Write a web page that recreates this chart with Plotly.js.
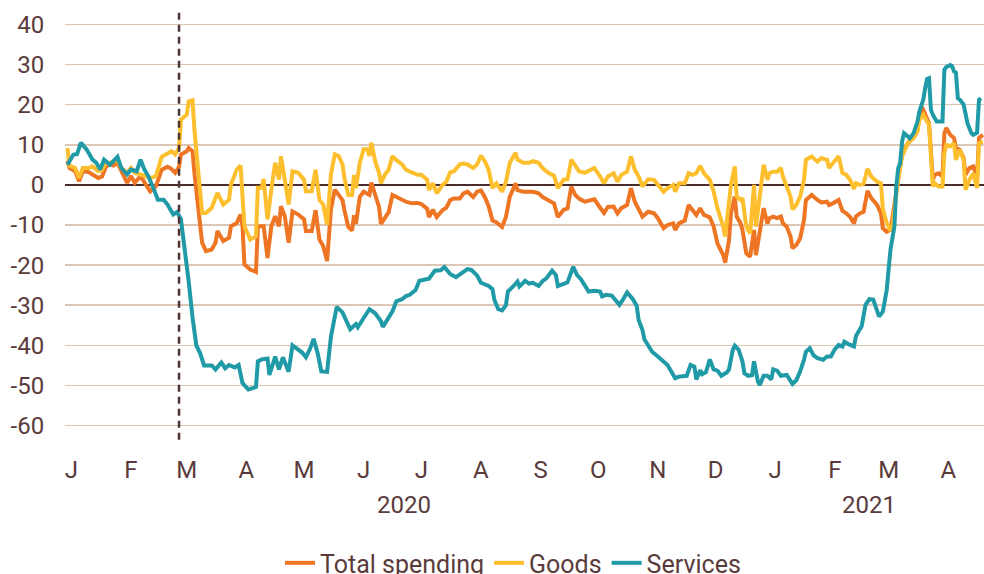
<!DOCTYPE html>
<html>
<head>
<meta charset="utf-8">
<script src="https://cdn.plot.ly/plotly-3.0.1.min.js"></script>
<style>
html,body{margin:0;padding:0;background:#fff;}
#chart{width:984px;height:574px;}
</style>
</head>
<body>
<div id="chart"></div>
<script>
// x values: days since 1 January 2020
const servicesDay = [12,15,17,19,22,25,27,29,31,34,38,40,43,45,48,50,52,54,57,59,62,64,67,69,71,73,75,77,79,81,83,87,89,92,94,96,99,101,103,106,110,111,113,116,117,120,122,124,127,129,132,134,136,138,140,142,144,147,149,152,155,157,159,162,163,166,169,172,175,176,179,181,183,186,188,190,193,195,198,200,203,206,208,211,214,217,220,222,225,227,231,233,234,236,238,240,241,244,246,247,250,252,254,257,259,261,264,266,267,270,272,275,277,279,281,283,286,289,290,292,295,297,299,301,303,306,308,309,311,312,314,316,319,322,324,326,328,330,334,336,338,339,341,342,344,346,348,350,352,355,356,358,359,361,363,364,366,368,369,371,372,374,376,378,379,381,383,386,388,389,391,393,395,396,398,400,402,405,407,409,411,413,415,416,419,421,422,425,427,429,431,433,434,436,438,439,440,442,443,444,445,446,447,448,450,452,454,455,457,458,459,460,461,462,464,466,467,468,469,471,472,473,474,475,476,478,479,480,482,483,485,486,487];
const services = [5.0,7.5,7.7,10.5,8.8,6.3,5.5,3.8,6.3,5.0,7.0,4.2,2.6,3.8,3.4,6.3,3.8,2.2,-1.2,-3.7,-3.7,-4.9,-7.4,-6.8,-8.6,-16,-24,-33,-40,-42,-45,-45,-46,-44.3,-45.7,-44.9,-45.5,-44.9,-49.4,-51,-50.4,-44,-43.5,-43.3,-47.4,-42.8,-46,-43,-46.6,-40,-41,-41.8,-43,-41,-38.4,-41.8,-46.5,-46.6,-37.8,-30.4,-31.8,-34,-36,-34.7,-35.5,-33.2,-31,-32,-34,-35.4,-33.2,-31.5,-29,-28.5,-27.7,-27.4,-26.2,-23.9,-23.6,-23.4,-21.4,-21.3,-20.5,-22.2,-23,-22,-21,-21.2,-22.6,-24.4,-25.2,-26,-28.7,-31,-31.3,-30,-26.6,-25.2,-24.1,-25.3,-23.9,-24.6,-24.4,-25.2,-24,-23.3,-21.4,-22.5,-25.2,-24.7,-24.3,-20.4,-22.5,-23.5,-25.2,-26.6,-26.4,-26.6,-27.8,-27.4,-27.6,-28.8,-29.9,-28.5,-26.8,-28.5,-30.2,-33.7,-36.2,-38.5,-40.3,-41.6,-42.8,-44,-44.9,-46.5,-48.2,-47.8,-47.6,-44.9,-45.3,-48.5,-46.2,-47.2,-46.7,-43.5,-46,-46.3,-47.6,-46.7,-46,-41.1,-40.1,-41.1,-44,-47,-47.6,-47.4,-44,-49,-49.9,-47.6,-47.6,-48.5,-46,-46.3,-47.6,-47.4,-48.7,-49.6,-48.7,-46.5,-43.6,-41.6,-40.7,-42.5,-43.2,-43.6,-42.8,-42.8,-41,-39.9,-40.3,-39.1,-39.9,-40.3,-37.7,-35.2,-29.9,-28.5,-28.6,-31.2,-32.8,-31.6,-26.2,-21,-16,-10.4,-0.4,4.2,5.4,10.8,12.9,12.5,11.6,12.9,15.8,18.3,21.2,24.1,26.4,26.6,18.7,17.5,15.8,15.8,15.8,28.7,29.4,29.9,29.6,28.3,28,21.6,21.3,20,17.5,15.4,12.9,12.5,13,21.2,21.6];

const spendDay = [12,13,16,18,20,23,25,28,30,32,34,36,38,40,43,45,47,50,52,55,58,59,61,64,66,68,70,71,74,75,77,78,80,82,84,87,89,90,93,96,97,100,102,103,104,107,110,111,113,114,116,118,120,122,123,125,127,129,132,135,136,139,141,143,145,147,149,151,153,155,156,158,160,161,162,164,166,168,169,170,172,174,175,177,179,181,183,186,188,191,194,196,199,200,202,204,207,209,211,213,216,218,220,223,225,227,229,231,233,235,238,240,242,245,246,249,252,254,257,259,262,265,267,270,272,274,276,278,281,284,286,289,291,293,296,298,300,303,305,307,309,311,314,317,319,322,324,327,328,330,333,335,337,339,341,343,346,348,350,353,354,356,357,359,360,362,363,365,367,369,370,372,374,376,377,379,381,383,384,386,388,389,391,393,395,396,399,402,404,407,408,410,413,415,417,419,421,422,424,426,428,430,433,435,436,438,440,441,443,444,446,449,452,454,455,457,459,460,462,463,465,467,468,469,471,473,474,476,478,479,481,483,485,486,488];
const totalSpending = [6,4.2,3.4,0.9,3.4,3.2,2.6,1.7,2.1,4.6,5.1,4.8,5.5,3.4,0.5,2.2,0.5,2.2,0.5,-1.6,-0.3,1.3,3.8,4.5,4.0,3.0,4.5,7.6,8.4,9.2,8.4,3,-5.3,-14.4,-16.5,-16.1,-14.4,-11.5,-14,-13.2,-10.3,-9.5,-7.4,-10.3,-19.8,-21.1,-21.7,-10.3,-10.3,-10.3,-18.2,-10.3,-7.8,-10.3,-5.3,-7.8,-14.4,-6.6,-7.4,-8.6,-11.5,-11.5,-6.3,-13.6,-15.3,-19,-6.1,-1.2,-2.5,-3.8,-6.3,-10.5,-11.4,-7.6,-9.7,-3,-1.7,-2.1,-2.5,0.6,-2.5,-5.5,-9.7,-8,-6.8,-2.5,-3,-3.6,-4.2,-4.6,-4.5,-4.8,-5.9,-8,-6.2,-8,-6.3,-5.7,-3.8,-3.4,-3.4,-2.1,-1.7,-3,-1.7,-1.4,-3,-5.3,-8.9,-9.3,-10.5,-8,-3,0.4,-1.3,-1.7,-1.7,-1.7,-2.1,-3,-3.8,-4.6,-8,-6.2,-5.9,-0.4,-2.5,-3.4,-4.2,-3.8,-3.6,-5.7,-7,-5.5,-5.4,-7.1,-5.8,-5,-0.8,-4.2,-6.25,-7.9,-6.7,-7.1,-8.3,-10.8,-10,-9.6,-11.25,-9.6,-8.9,-5,-6.25,-7.5,-5.8,-7.5,-8.1,-10.4,-14.6,-17.5,-19.4,-13.75,-7.1,-2.9,-7.9,-9.6,-11.25,-17.1,-17.9,-11.25,-17.5,-11.25,-5.8,-9.6,-8.3,-7.9,-8.3,-7.9,-9.6,-10.4,-12.9,-15.8,-15,-13.3,-8.75,-3.75,-2.5,-3.75,-4.4,-4.2,-5,-4.6,-3.75,-6.5,-7.1,-8,-9.6,-7.9,-7.1,-6.7,-1.5,-3.3,-5,-7.1,-10.8,-11.7,-11.2,-8,-1,1.7,7.9,10.4,12.1,13.75,17.5,18.75,16.7,15.4,1.25,2.5,2.9,2.1,12.9,14.2,12.5,11.7,9.2,8.75,6.7,2.5,4.2,4.6,2.1,11.7,12.5];
const goods = [9.2,4.8,4.2,1.7,4.2,4.2,4.6,3.4,3.8,5.5,5.5,5.9,6.3,4.2,3,4.2,3,2.6,2.2,1.7,2.2,3.8,7,7.8,8.4,7.6,9.2,16.3,17.5,20.8,21.1,13.8,4.2,-7,-7,-5.7,-3.2,-2,-4.9,-3.7,0.1,3.8,4.8,-1.2,-10.3,-13.6,-12.8,-0.7,-0.7,1.5,-8.6,-1.2,5.5,1.3,7.1,1.3,-4.9,3.4,3,1.3,-1.6,-1.6,3.8,-3.7,-4.9,-9.9,2.6,7.6,7.2,5.1,1.7,-2.5,-2.5,2.5,-0.8,5.5,8.9,8.9,7.2,10.5,5.9,3,0.4,2.5,3.8,7.2,6.2,5.1,3.8,3.1,2.5,2.5,1.3,-1.3,0.4,-2.1,0,0.8,3.1,3.4,5.1,5.3,5.1,4.2,5.1,7.3,5.9,3.8,-0.8,0.4,-1.7,0.8,5.5,8,6.3,5.5,5.5,5.9,5.5,4.2,3,2.3,-0.8,1.3,1.4,6.3,4.6,3.4,3,3.8,4.2,2.1,0.4,2.1,2.9,0.8,2.5,3.3,7.1,3.75,2.1,-0.4,1.4,1.25,0,-1.7,-0.8,0,-1.7,0.4,0.4,2.9,2.5,2.9,4.75,2.9,1.25,-1.7,-5.8,-10.4,-12.9,-5.4,0,4.6,-2.9,-3.75,-3.3,-10.4,-12.1,0,-10.4,-2.9,5,1.25,2.9,3.3,3.3,4.2,2.1,-0.4,-2.9,-6.1,-5,-2.9,1.25,6.25,7.1,5.8,6.7,6.25,4.2,5.4,7.1,3,2.5,1.2,-1,0.4,0,0.3,4,2.1,0.8,0.4,-6,-9.5,-11.5,-10,-2,1.25,7.1,10.4,11.7,13.3,16.25,17.5,15.8,15,-0.4,0.4,-0.4,-0.4,7.9,10,9.6,10.4,6.25,8.75,6.25,-1.25,1.25,2.9,-0.8,10.4,10.8];

const monthLabels = ['J','F','M','A','M','J','J','A','S','O','N','D','J','F','M','A'];
const monthMid = ['2020-01-15','2020-02-15','2020-03-15','2020-04-15','2020-05-15','2020-06-15','2020-07-15','2020-08-15','2020-09-15','2020-10-15','2020-11-15','2020-12-15','2021-01-15','2021-02-15','2021-03-15','2021-04-15'];
const monthStarts = ['2020-02-01','2020-03-01','2020-04-01','2020-05-01','2020-06-01','2020-07-01','2020-08-01','2020-09-01','2020-10-01','2020-11-01','2020-12-01','2021-02-01','2021-03-01','2021-04-01','2021-05-01'];
const yearStart = ['2021-01-01'];
const yearLabels = ['2020','2021'];
const yearLabelPos = ['2020-07-06','2021-03-05'];
const pandemicDate = '2020-03-11';
const yTicks = [-60,-50,-40,-30,-20,-10,0,10,20,30,40];
const yTickText = ['-60','-50','-40','-30','-20','-10','0','10','20','30','40'];

function toDate(d){
  const t = Date.UTC(2020,0,1) + d*86400000;
  return new Date(t).toISOString().slice(0,19).replace('T',' ');
}
const xRange = [toDate(10.7), toDate(488.6)];

const textColor = '#5a3b3b';
const fontFam = 'Roboto, "Open Sans", sans-serif';

const traces = [
  {x: spendDay.map(toDate), y: totalSpending, name: 'Total spending', type: 'scatter', mode: 'lines',
   line: {color: '#ee7523', width: 4}},
  {x: spendDay.map(toDate), y: goods, name: 'Goods', type: 'scatter', mode: 'lines',
   line: {color: '#fdbf2d', width: 4}},
  {x: servicesDay.map(toDate), y: services, name: 'Services', type: 'scatter', mode: 'lines',
   line: {color: '#1f9aa6', width: 4}}
];

const layout = {
  width: 984, height: 574,
  margin: {l: 65, r: 0, t: 10, b: 132},
  paper_bgcolor: '#ffffff', plot_bgcolor: '#ffffff',
  font: {family: fontFam, color: textColor, size: 24},
  showlegend: true,
  legend: {orientation: 'h', xref: 'paper', x: 0.4875, xanchor: 'center',
           yref: 'container', y: 0.019, yanchor: 'middle',
           font: {size: 25, color: textColor}, itemwidth: 30, tracegroupgap: 0},
  xaxis: {type: 'date', range: xRange, tickmode: 'array', tickvals: monthMid, ticktext: monthLabels,
          ticks: 'outside', ticklen: 6, tickcolor: 'rgba(0,0,0,0)', showgrid: false, zeroline: false,
          showline: false, tickfont: {size: 24, color: textColor}, fixedrange: true},
  xaxis2: {type: 'date', range: xRange, overlaying: 'x', anchor: 'y', side: 'bottom', tickmode: 'array',
           tickvals: monthStarts, ticks: 'outside', ticklen: 4, tickwidth: 1.3, tickcolor: '#a08a84',
           showticklabels: false, showgrid: false, zeroline: false, showline: false},
  xaxis3: {type: 'date', range: xRange, overlaying: 'x', anchor: 'y', side: 'bottom', tickmode: 'array',
           tickvals: yearStart, ticks: 'outside', ticklen: 10, tickwidth: 1.3, tickcolor: '#a08a84',
           showticklabels: false, showgrid: false, zeroline: false, showline: false},
  yaxis: {range: [-64.1, 43.6], tickmode: 'array', tickvals: yTicks, ticktext: yTickText, ticks: 'outside', ticklen: 15,
          tickcolor: 'rgba(0,0,0,0)', showgrid: true, gridcolor: '#dcc6b5', gridwidth: 1.5,
          zeroline: true, zerolinecolor: '#4a2c2c', zerolinewidth: 2, showline: false,
          tickfont: {size: 24, color: textColor}, fixedrange: true},
  shapes: [
    {type: 'line', xref: 'x', yref: 'paper', x0: pandemicDate, x1: pandemicDate, y0: 0.005, y1: 1,
     line: {color: '#4f3333', width: 2.5, dash: '7px,5px'}, layer: 'above'}
  ],
  annotations: yearLabels.map((t, i) => ({
    text: t, x: yearLabelPos[i], xref: 'x', y: -0.146, yref: 'paper', showarrow: false,
    xanchor: 'center', yanchor: 'middle', font: {size: 24, color: textColor}
  }))
};

Plotly.newPlot('chart', traces, layout, {displayModeBar: false, staticPlot: true});
</script>
</body>
</html>
